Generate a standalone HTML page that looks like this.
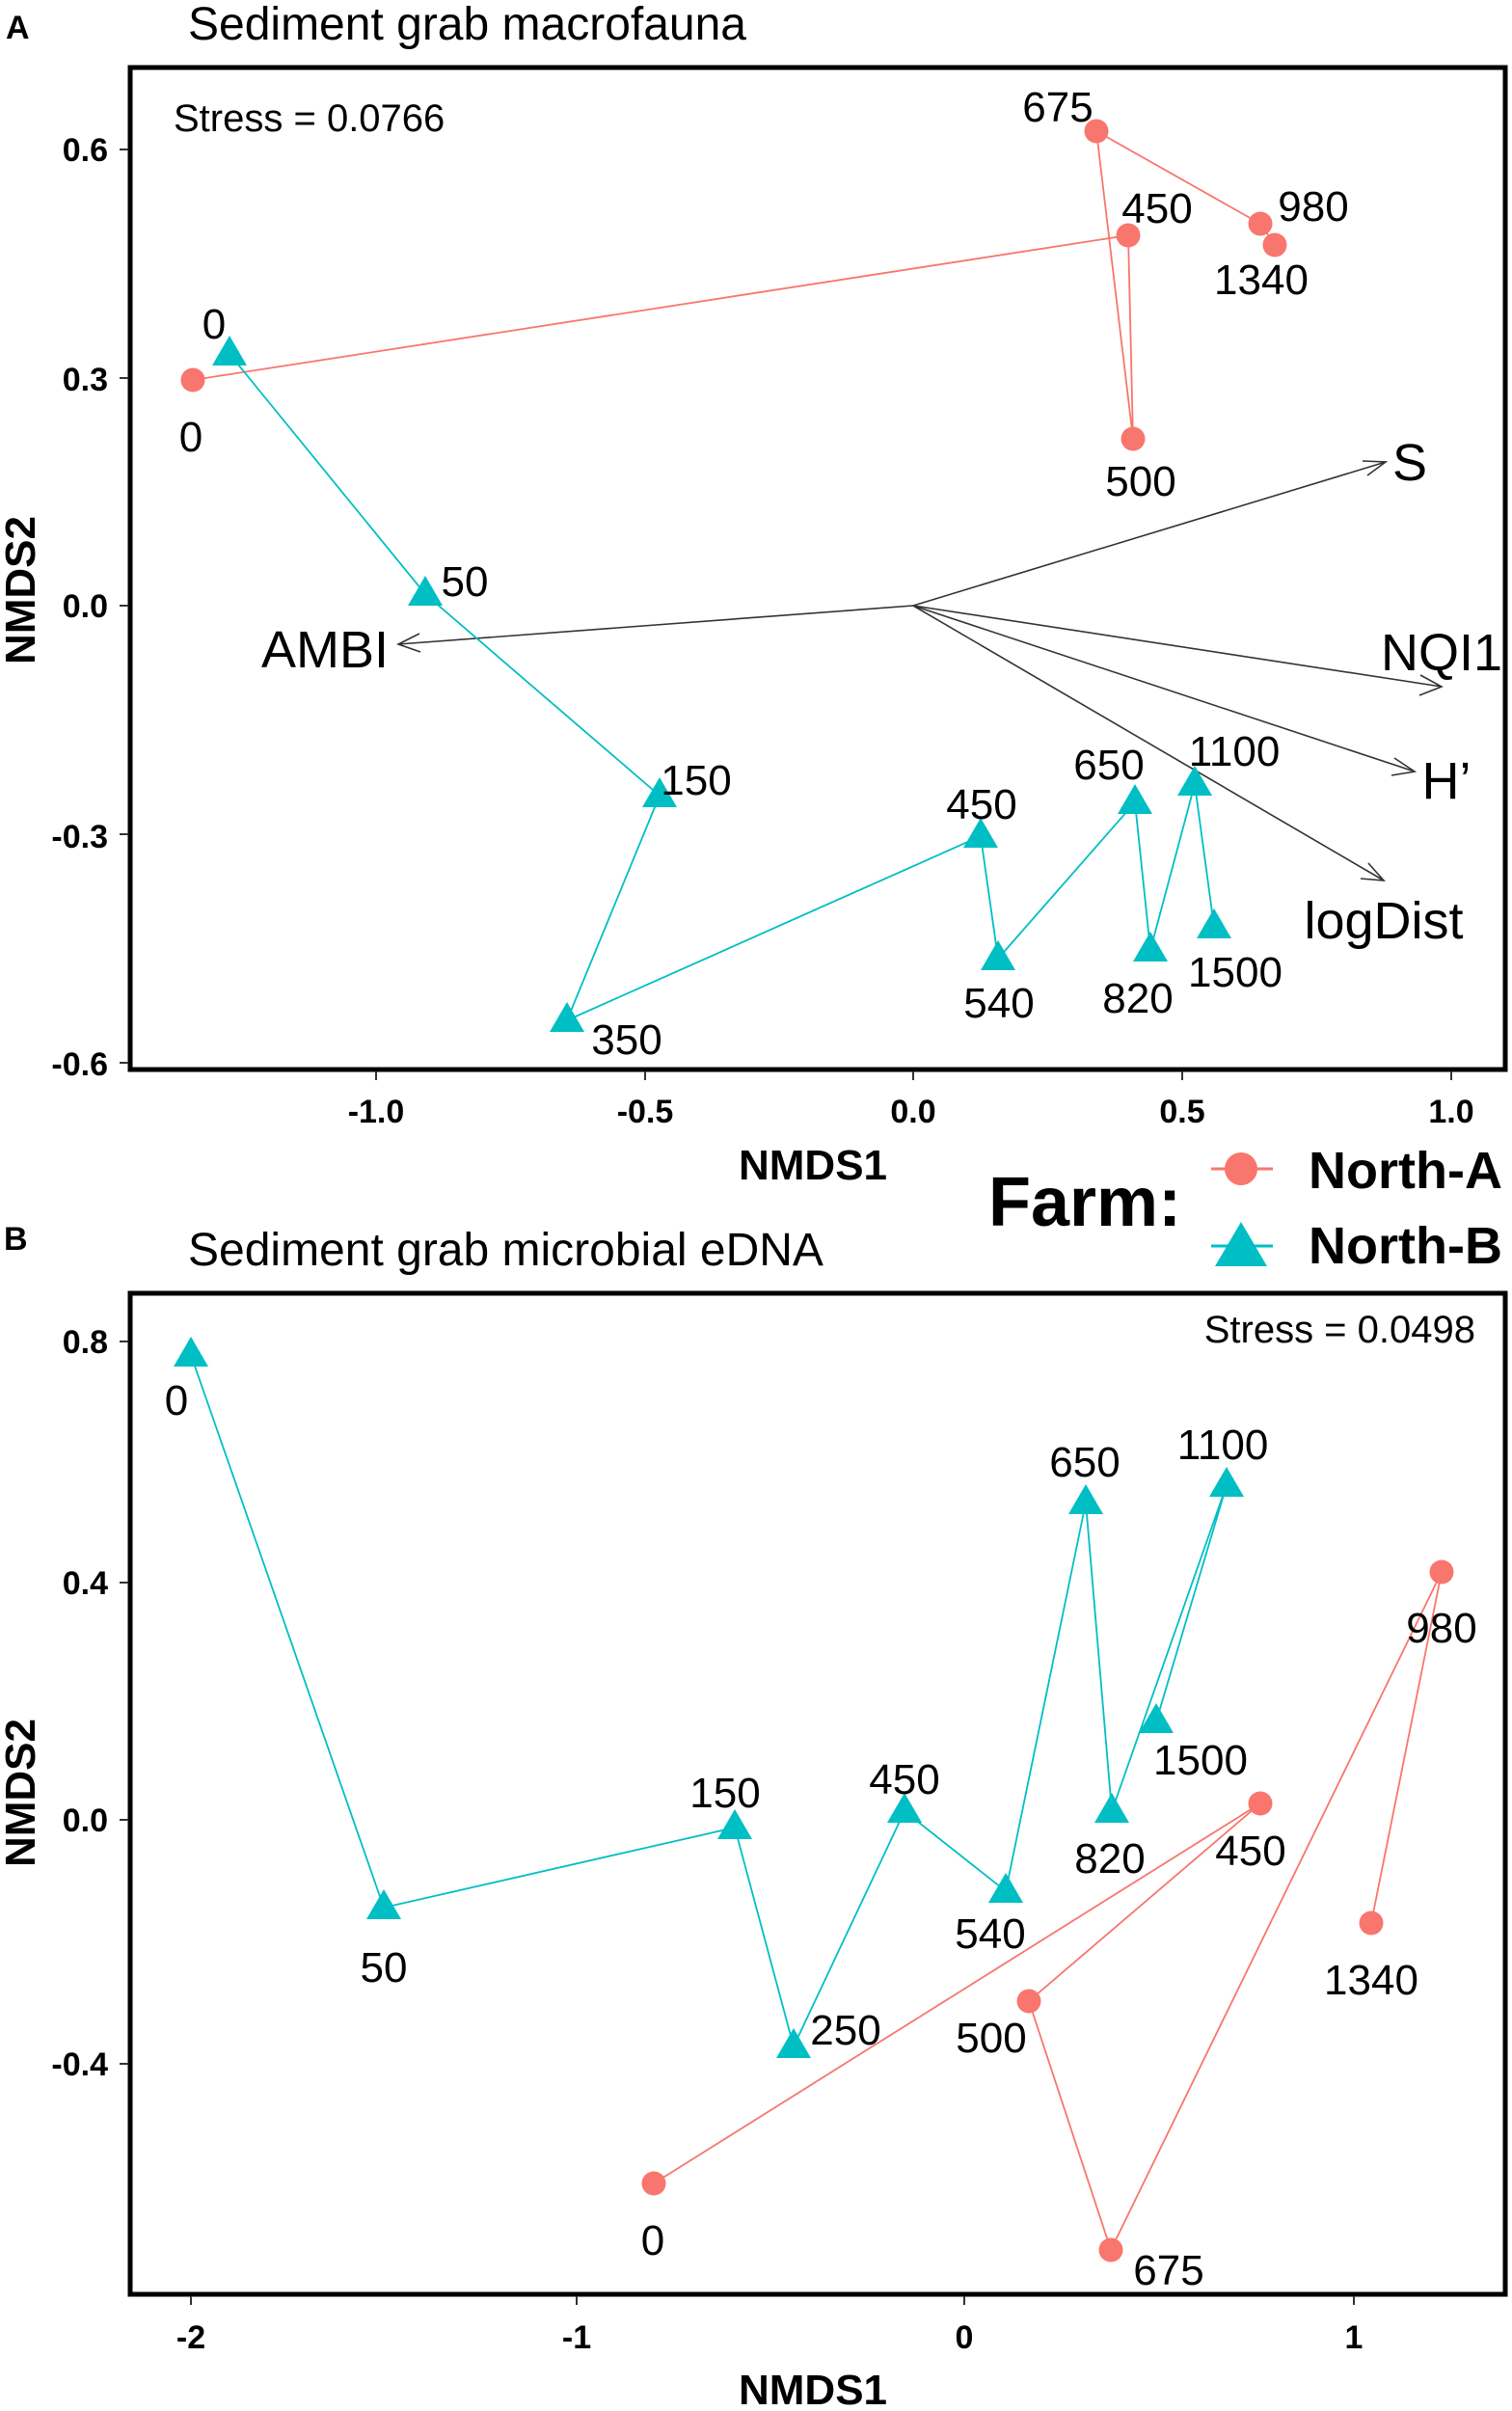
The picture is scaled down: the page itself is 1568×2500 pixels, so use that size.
<!DOCTYPE html>
<html><head><meta charset="utf-8"><style>body{margin:0;background:#fff}svg{display:block}</style></head><body>
<svg xmlns="http://www.w3.org/2000/svg" width="1568" height="2500" viewBox="0 0 1568 2500" font-family="Liberation Sans, Arial, sans-serif">
<defs>
<g id="tri"><polygon points="0,-19 -18,12 18,12" fill="#00BFC4"/></g>
<g id="cir"><circle r="12.5" fill="#F8766D"/></g>
</defs>
<!-- Panel A -->
<text x="6" y="40" font-size="34" font-weight="bold">A</text>
<text x="195" y="41" font-size="48">Sediment grab macrofauna</text>
<rect x="135" y="70" width="1426" height="1039" fill="none" stroke="#000" stroke-width="5"/>
<text x="180" y="136" font-size="40">Stress = 0.0766</text>
<g font-size="34" font-weight="bold" text-anchor="end">
<text x="112" y="167">0.6</text><text x="112" y="405">0.3</text><text x="112" y="640">0.0</text><text x="112" y="879">-0.3</text><text x="112" y="1115">-0.6</text>
</g>
<g stroke="#333" stroke-width="2"><line x1="124" y1="155" x2="133" y2="155"/><line x1="124" y1="392" x2="133" y2="392"/><line x1="124" y1="628" x2="133" y2="628"/><line x1="124" y1="865" x2="133" y2="865"/><line x1="124" y1="1102" x2="133" y2="1102"/>
<line x1="390" y1="1111" x2="390" y2="1120"/><line x1="669" y1="1111" x2="669" y2="1120"/><line x1="947" y1="1111" x2="947" y2="1120"/><line x1="1226" y1="1111" x2="1226" y2="1120"/><line x1="1505" y1="1111" x2="1505" y2="1120"/></g>
<g font-size="34" font-weight="bold" text-anchor="middle">
<text x="390" y="1164">-1.0</text><text x="669" y="1164">-0.5</text><text x="947" y="1164">0.0</text><text x="1226" y="1164">0.5</text><text x="1505" y="1164">1.0</text>
</g>
<text x="843" y="1223" font-size="44" font-weight="bold" text-anchor="middle">NMDS1</text>
<text transform="translate(36,612) rotate(-90)" font-size="44" font-weight="bold" text-anchor="middle">NMDS2</text>
<!-- arrows -->
<g stroke="#333" stroke-width="1.6" fill="none">
<line x1="947" y1="628" x2="1437" y2="479"/><polyline points="1413,478 1437,479 1418,493"/>
<line x1="947" y1="628" x2="413" y2="668"/><polyline points="435,657 413,668 436,676"/>
<line x1="947" y1="628" x2="1495" y2="712"/><polyline points="1473,700 1495,712 1472,721"/>
<line x1="947" y1="628" x2="1467" y2="800"/><polyline points="1446,786 1467,800 1443,804"/>
<line x1="947" y1="628" x2="1435" y2="913"/><polyline points="1419,895 1435,913 1411,911"/>
</g>
<g font-size="54">
<text x="1462" y="498" text-anchor="middle">S</text>
<text x="337" y="692" text-anchor="middle">AMBI</text>
<text x="1495" y="695" text-anchor="middle">NQI1</text>
<text x="1500" y="828" text-anchor="middle">H’</text>
<text x="1435" y="973" text-anchor="middle">logDist</text>
</g>
<polyline points="200,394 1170,244 1175,455 1137,136 1307,232 1322,254" fill="none" stroke="#F8766D" stroke-width="1.8"/>
<polyline points="238,367 441,616 684,825 588,1058 1017,867 1035,994 1177,832 1193,985 1239,813 1259,961" fill="none" stroke="#00BFC4" stroke-width="1.8"/>
<use href="#cir" x="200" y="394"/><use href="#cir" x="1170" y="244"/><use href="#cir" x="1175" y="455"/><use href="#cir" x="1137" y="136"/><use href="#cir" x="1307" y="232"/><use href="#cir" x="1322" y="254"/>
<use href="#tri" x="238" y="367"/><use href="#tri" x="441" y="616"/><use href="#tri" x="684" y="825"/><use href="#tri" x="588" y="1058"/><use href="#tri" x="1017" y="867"/><use href="#tri" x="1035" y="994"/><use href="#tri" x="1177" y="832"/><use href="#tri" x="1193" y="985"/><use href="#tri" x="1239" y="813"/><use href="#tri" x="1259" y="961"/>
<g font-size="44" text-anchor="middle">
<text x="198" y="468">0</text><text x="1200" y="231">450</text><text x="1097" y="126">675</text><text x="1362" y="229">980</text><text x="1308" y="305">1340</text><text x="1183" y="514">500</text>
<text x="222" y="351">0</text><text x="482" y="618">50</text><text x="722" y="824">150</text><text x="650" y="1093">350</text><text x="1018" y="849">450</text><text x="1036" y="1055">540</text><text x="1150" y="808">650</text><text x="1180" y="1050">820</text><text x="1280" y="794">1100</text><text x="1281" y="1023">1500</text>
</g>
<!-- Legend -->
<text x="1025" y="1271" font-size="72" font-weight="bold">Farm:</text>
<line x1="1256" y1="1212" x2="1320" y2="1212" stroke="#F8766D" stroke-width="3"/><circle cx="1287" cy="1212" r="17" fill="#F8766D"/>
<line x1="1256" y1="1292" x2="1320" y2="1292" stroke="#00BFC4" stroke-width="3"/><polygon points="1287,1267 1260,1313 1314,1313" fill="#00BFC4"/>
<text x="1357" y="1232" font-size="54" font-weight="bold">North-A</text>
<text x="1357" y="1310" font-size="54" font-weight="bold">North-B</text>
<!-- Panel B -->
<text x="4" y="1296" font-size="34" font-weight="bold">B</text>
<text x="195" y="1312" font-size="48">Sediment grab microbial eDNA</text>
<rect x="135" y="1341" width="1426" height="1038" fill="none" stroke="#000" stroke-width="5"/>
<text x="1530" y="1392" font-size="40" text-anchor="end">Stress = 0.0498</text>
<g font-size="34" font-weight="bold" text-anchor="end">
<text x="112" y="1403">0.8</text><text x="112" y="1653">0.4</text><text x="112" y="1899">0.0</text><text x="112" y="2152">-0.4</text>
</g>
<g stroke="#333" stroke-width="2"><line x1="124" y1="1391" x2="133" y2="1391"/><line x1="124" y1="1641" x2="133" y2="1641"/><line x1="124" y1="1887" x2="133" y2="1887"/><line x1="124" y1="2140" x2="133" y2="2140"/>
<line x1="198" y1="2381" x2="198" y2="2390"/><line x1="598" y1="2381" x2="598" y2="2390"/><line x1="1000" y1="2381" x2="1000" y2="2390"/><line x1="1404" y1="2381" x2="1404" y2="2390"/></g>
<g font-size="34" font-weight="bold" text-anchor="middle">
<text x="198" y="2435">-2</text><text x="598" y="2435">-1</text><text x="1000" y="2435">0</text><text x="1404" y="2435">1</text>
</g>
<text x="843" y="2493" font-size="44" font-weight="bold" text-anchor="middle">NMDS1</text>
<text transform="translate(36,1859) rotate(-90)" font-size="44" font-weight="bold" text-anchor="middle">NMDS2</text>
<polyline points="678,2264 1307,1870 1067,2075 1152,2333 1495,1630 1422,1994" fill="none" stroke="#F8766D" stroke-width="1.8"/>
<polyline points="198,1405 398,1978 762,1895 823,2122 938,1878 1043,1961 1126,1558 1153,1878 1272,1540 1199,1785" fill="none" stroke="#00BFC4" stroke-width="1.8"/>
<use href="#cir" x="678" y="2264"/><use href="#cir" x="1307" y="1870"/><use href="#cir" x="1067" y="2075"/><use href="#cir" x="1152" y="2333"/><use href="#cir" x="1495" y="1630"/><use href="#cir" x="1422" y="1994"/>
<use href="#tri" x="198" y="1405"/><use href="#tri" x="398" y="1978"/><use href="#tri" x="762" y="1895"/><use href="#tri" x="823" y="2122"/><use href="#tri" x="938" y="1878"/><use href="#tri" x="1043" y="1961"/><use href="#tri" x="1126" y="1558"/><use href="#tri" x="1153" y="1878"/><use href="#tri" x="1272" y="1540"/><use href="#tri" x="1199" y="1785"/>
<g font-size="44" text-anchor="middle">
<text x="183" y="1467">0</text><text x="398" y="2055">50</text><text x="752" y="1874">150</text><text x="877" y="2120">250</text><text x="938" y="1860">450</text><text x="1027" y="2020">540</text><text x="1125" y="1531">650</text><text x="1151" y="1942">820</text><text x="1268" y="1513">1100</text><text x="1245" y="1840">1500</text>
<text x="677" y="2338">0</text><text x="1297" y="1934">450</text><text x="1028" y="2128">500</text><text x="1212" y="2369">675</text><text x="1495" y="1703">980</text><text x="1422" y="2068">1340</text>
</g>
</svg>
</body></html>
